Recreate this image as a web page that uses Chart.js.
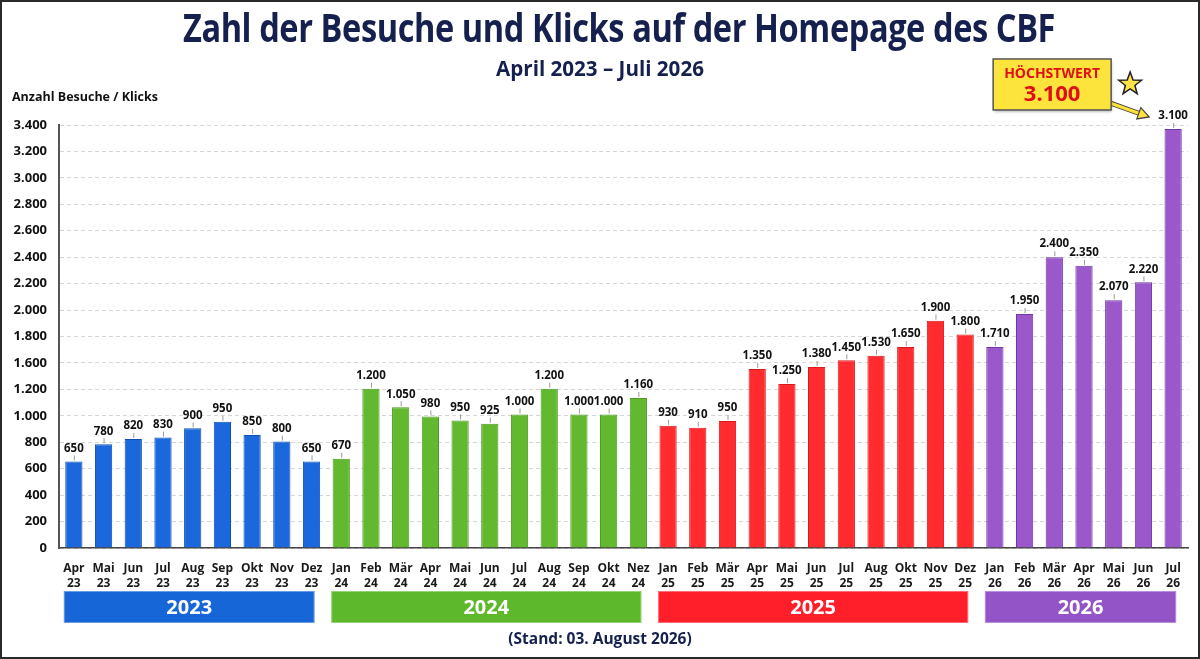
<!DOCTYPE html>
<html>
<head>
<meta charset="utf-8">
<style>
  body { margin: 0; background: #fff; font-family: "Open Sans", sans-serif; }
  .wrap { position: relative; width: 1200px; height: 659px; overflow: hidden; }
  canvas { position: absolute; left: 0; top: 0; }
  .frame { position: absolute; inset: 0; border: 2px solid #2a2a2a; pointer-events: none; }
  .title, .subtitle, .footer { position: absolute; left: 0; width: 1200px; text-align: center; color: #16204f; font-weight: 700; white-space: nowrap; }
  .title { top: 0px; left: 19px; font-size: 39px; letter-spacing: -0.5px; transform: scaleX(0.835); }
  .subtitle { top: 54px; font-size: 21px; transform: scaleX(0.98); }
  .footer { top: 627px; font-size: 15.5px; transform: scaleX(1.0); }
  .ytitle { position: absolute; left: 12px; top: 88px; font-size: 12.5px; font-weight: 700; color: #111; }
</style>
</head>
<body>
<div class="wrap">
  <canvas id="visits" width="1200" height="659"></canvas>
  <div class="title">Zahl der Besuche und Klicks auf der Homepage des CBF</div>
  <div class="subtitle">April 2023 – Juli 2026</div>
  <div class="ytitle">Anzahl Besuche / Klicks</div>
  <div class="footer">(Stand: 03. August 2026)</div>
  <div class="frame"></div>
</div>
<script src="https://cdn.jsdelivr.net/npm/chart.js"></script>
<script>
// month / year labels as printed under the bars
const months = [
  "Apr", "Mai", "Jun", "Jul", "Aug", "Sep", "Okt", "Nov", "Dez",
  "Jan", "Feb", "Mär", "Apr", "Mai", "Jun", "Jul", "Aug", "Sep", "Okt", "Nez",
  "Jan", "Feb", "Mär", "Apr", "Mai", "Jun", "Jul", "Aug", "Okt", "Nov", "Dez",
  "Jan", "Feb", "Mär", "Apr", "Mai", "Jun", "Jul"
];
const years = [
  "23", "23", "23", "23", "23", "23", "23", "23", "23",
  "24", "24", "24", "24", "24", "24", "24", "24", "24", "24", "24",
  "25", "25", "25", "25", "25", "25", "25", "25", "25", "25", "25",
  "26", "26", "26", "26", "26", "26", "26"
];
// bar heights as drawn, measured on the evenly spaced grid (200 per line)
const barHeights = [
  655, 785, 825, 835, 905, 955, 855, 805, 655,
  675, 1205, 1065, 995, 965, 940, 1010, 1205, 1010, 1010, 1135,
  925, 910, 960, 1355, 1240, 1370, 1420, 1455, 1520, 1720, 1615,
  1520, 1770, 2200, 2135, 1875, 2010, 3170
];
// numbers printed above the bars
const printedValues = [
  650, 780, 820, 830, 900, 950, 850, 800, 650,
  670, 1200, 1050, 980, 950, 925, 1000, 1200, 1000, 1000, 1160,
  930, 910, 950, 1350, 1250, 1380, 1450, 1530, 1650, 1900, 1800,
  1710, 1950, 2400, 2350, 2070, 2220, 3100
];
// y tick labels as printed (1.400 is missing in the original)
const yTickLabels = [0, 200, 400, 600, 800, 1000, 1200, 1600, 1800, 2000,
  2200, 2400, 2600, 2800, 3000, 3200, 3400];
const groupNames = ["2023", "2024", "2025", "2026"];
const groupSizes = [9, 11, 11, 7];
const groupColors = ["#1766d8", "#5db82b", "#ff1f2a", "#9254c6"];
const barFill = ["#1a68dc", "#62b82e", "#ff2b2f", "#9a58ca"];
const barEdge = ["#0f4fb5", "#4a9a1e", "#d81a1e", "#6f36a8"];
const peakLabel = "HÖCHSTWERT";
const peakValue = 3100;

function fmt(n) {
  if (n < 1000) return String(n);
  return Math.floor(n / 1000) + "." + String(n % 1000).padStart(3, "0");
}

const groupOf = [];
groupSizes.forEach((s, g) => { for (let i = 0; i < s; i++) groupOf.push(g); });

const valueLabels = {
  id: "valueLabels",
  afterDatasetsDraw(chart) {
    const ctx = chart.ctx;
    const meta = chart.getDatasetMeta(0);
    ctx.save();
    ctx.font = "700 11.5px 'Open Sans'";
    ctx.textAlign = "center";
    ctx.textBaseline = "middle";
    meta.data.forEach((bar, i) => {
      ctx.strokeStyle = "#9a9a9a";
      ctx.lineWidth = 1;
      ctx.beginPath();
      ctx.moveTo(bar.x + 0.5, bar.y - 1);
      ctx.lineTo(bar.x + 0.5, bar.y - 6);
      ctx.stroke();
      ctx.fillStyle = "#111";
      ctx.fillText(fmt(printedValues[i]), bar.x, bar.y - 13);
    });
    ctx.restore();
  }
};

const yearBands = {
  id: "yearBands",
  afterDraw(chart) {
    const ctx = chart.ctx;
    const x = chart.scales.x;
    let start = 0;
    ctx.save();
    groupSizes.forEach((size, g) => {
      const left = x.getPixelForValue(start) - 10;
      const right = x.getPixelForValue(start + size - 1) + 3;
      const top = 591, h = 32;
      ctx.fillStyle = groupColors[g];
      ctx.fillRect(left, top, right - left, h);
      ctx.strokeStyle = "rgba(255,255,255,0.35)";
      ctx.lineWidth = 1;
      ctx.strokeRect(left + 0.5, top + 0.5, right - left - 1, h - 1);
      ctx.fillStyle = "#fff";
      ctx.font = "700 20px 'Open Sans'";
      ctx.textAlign = "center";
      ctx.textBaseline = "middle";
      ctx.fillText(groupNames[g], (left + right) / 2, top + h / 2 + 1);
      start += size;
    });
    ctx.restore();
  }
};

function star(ctx, cx, cy, ro, ri) {
  ctx.beginPath();
  for (let k = 0; k < 10; k++) {
    const r = k % 2 ? ri : ro;
    const a = -Math.PI / 2 + k * Math.PI / 5;
    ctx.lineTo(cx + r * Math.cos(a), cy + r * Math.sin(a));
  }
  ctx.closePath();
}

const peakCallout = {
  id: "peakCallout",
  afterDraw(chart) {
    const ctx = chart.ctx;
    const meta = chart.getDatasetMeta(0);
    const bar = meta.data[meta.data.length - 1];
    const bx = bar.x, by = bar.y;
    const L = bx - 180, R = bx - 62, T = by - 70, B = by - 19;
    ctx.save();
    // arrow
    const x0 = R - 4, y0 = B - 8, x1 = bx - 24, y1 = by - 12;
    const ang = Math.atan2(y1 - y0, x1 - x0);
    const hx = x1 - 11 * Math.cos(ang), hy = y1 - 11 * Math.sin(ang);
    ctx.lineCap = "round";
    ctx.strokeStyle = "#444";
    ctx.lineWidth = 5;
    ctx.beginPath(); ctx.moveTo(x0, y0); ctx.lineTo(hx, hy); ctx.stroke();
    ctx.strokeStyle = "#ffe23a";
    ctx.lineWidth = 3;
    ctx.beginPath(); ctx.moveTo(x0, y0); ctx.lineTo(hx, hy); ctx.stroke();
    ctx.beginPath();
    ctx.moveTo(x1, y1);
    ctx.lineTo(hx + 6 * Math.sin(ang), hy - 6 * Math.cos(ang));
    ctx.lineTo(hx - 6 * Math.sin(ang), hy + 6 * Math.cos(ang));
    ctx.closePath();
    ctx.fillStyle = "#ffe23a";
    ctx.fill();
    ctx.strokeStyle = "#444";
    ctx.lineWidth = 1.2;
    ctx.stroke();
    // box
    ctx.shadowColor = "rgba(0,0,0,0.35)";
    ctx.shadowBlur = 3;
    ctx.shadowOffsetX = 1;
    ctx.shadowOffsetY = 2;
    ctx.fillStyle = "#fde43c";
    ctx.fillRect(L, T, R - L, B - T);
    ctx.shadowColor = "transparent";
    ctx.strokeStyle = "#555";
    ctx.lineWidth = 1.5;
    ctx.strokeRect(L, T, R - L, B - T);
    ctx.fillStyle = "#e00f14";
    ctx.textAlign = "center";
    ctx.textBaseline = "middle";
    ctx.font = "700 14px 'Open Sans'";
    ctx.fillText(peakLabel, (L + R) / 2, T + 15);
    ctx.font = "700 22px 'Open Sans'";
    ctx.fillText(fmt(peakValue), (L + R) / 2, T + 36);
    // star
    star(ctx, bx - 43, by - 45, 12, 5);
    ctx.fillStyle = "#ffe14a";
    ctx.fill();
    ctx.strokeStyle = "#222";
    ctx.lineWidth = 1.5;
    ctx.stroke();
    ctx.restore();
  }
};

new Chart(document.getElementById("visits"), {
  type: "bar",
  data: {
    labels: months.map((m, i) => [m, years[i]]),
    datasets: [{
      data: barHeights,
      backgroundColor: groupOf.map(g => barFill[g]),
      borderColor: groupOf.map(g => barEdge[g]),
      borderWidth: 1,
      categoryPercentage: 1,
      barPercentage: 0.58
    }]
  },
  options: {
    responsive: false,
    animation: false,
    layout: { padding: { left: 0, right: 12, top: 125, bottom: 71 } },
    plugins: { legend: { display: false }, tooltip: { enabled: false } },
    scales: {
      x: {
        afterFit: s => { s.height = 40; },
        grid: { display: false },
        border: { color: "#444", width: 1.5 },
        ticks: {
          color: "#1a1a1a",
          padding: 5,
          autoSkip: false,
          maxRotation: 0,
          font: { family: "Open Sans", weight: "700", size: 12, lineHeight: 1.25 }
        }
      },
      y: {
        min: 0,
        max: 3200,
        afterFit: s => { s.width = 59; },
        grid: { color: "#d6d6d6", drawTicks: false },
        border: { color: "#555", width: 2, dash: [4, 3] },
        ticks: {
          stepSize: 200,
          padding: 12,
          color: "#111",
          font: { family: "Open Sans", weight: "700", size: 13 },
          callback: (v, i) => fmt(yTickLabels[i])
        }
      }
    }
  },
  plugins: [valueLabels, yearBands, peakCallout]
});
</script>
</body>
</html>
